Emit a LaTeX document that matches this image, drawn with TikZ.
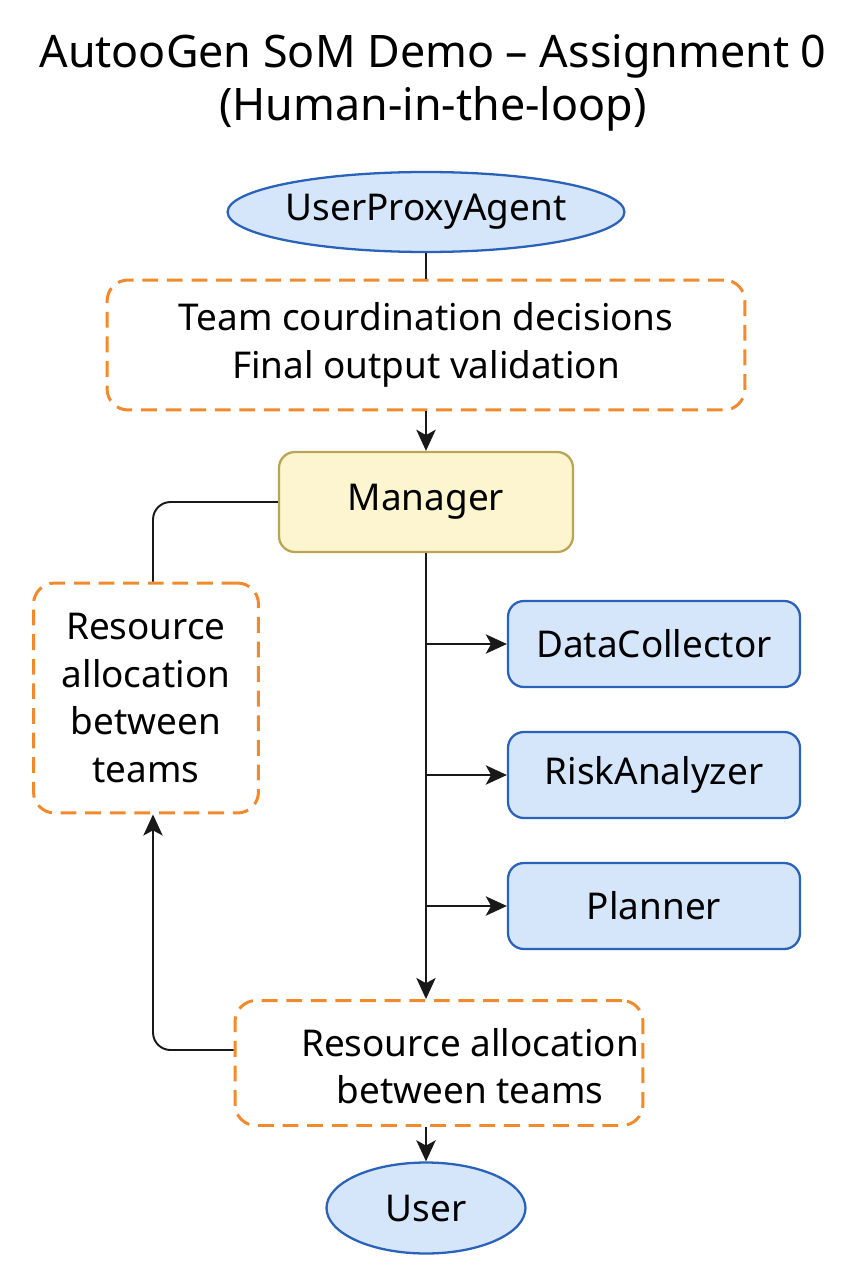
\documentclass[tikz,border=0pt]{standalone}
\usepackage{fontspec}
\setmainfont{Noto Sans}
\usetikzlibrary{shapes.geometric, arrows.meta, positioning}
\definecolor{agentblue}{RGB}{213, 230, 251}
\definecolor{edgeblue}{RGB}{43, 98, 185}
\definecolor{mgryellow}{RGB}{253, 245, 208}
\definecolor{mgredge}{RGB}{185, 165, 82}
\definecolor{noteorange}{RGB}{240, 138, 44}

\begin{document}
\begin{tikzpicture}[x=0.02cm, y=-0.02cm,
    body/.style={font=\fontsize{21}{27}\selectfont, align=center},
    terminal/.style={ellipse, draw=edgeblue, fill=agentblue, line width=1.3pt, inner sep=0pt, body},
    agent/.style={draw=edgeblue, fill=agentblue, line width=1.3pt, rounded corners=9pt, minimum width=5.84cm, minimum height=1.72cm, body},
    note/.style={draw=noteorange, line width=1.7pt, dash pattern=on 9pt off 5pt, rounded corners=12pt, body},
    link/.style={line width=1.1pt, black!90},
    arr/.style={link, -{Stealth[length=12pt, width=11pt, inset=3pt]}}]
  \useasboundingbox (0, 0) rectangle (853, 1280);

  % title
  \node[font=\fontsize{25.5}{30}\selectfont, align=center] (title) at (433, 83) {AutooGen SoM Demo -- Assignment 0\\(Human-in-the-loop)};

  % top of the loop
  \node[terminal, minimum width=7.84cm, minimum height=1.6cm] (upa) at (426, 212) {UserProxyAgent};
  \node[note, minimum width=12.76cm, minimum height=2.6cm] (coord) at (426, 345) {Team courdination decisions\\Final output validation};
  \node[draw=mgredge, fill=mgryellow, line width=1.3pt, rounded corners=9pt, minimum width=5.88cm, minimum height=2cm, body] (mgr) at (426, 502) {Manager};

  % worker agents
  \node[agent] (dc) at (654, 644) {DataCollector};
  \node[agent] (risk) at (654, 775) {RiskAnalyzer};
  \node[agent] (plan) at (654, 906) {Planner};

  % resource notes
  \node[note, minimum width=4.5cm, minimum height=4.6cm] (resl) at (146, 698) {Resource\\allocation\\between\\teams};
  \node[note, minimum width=8.16cm, minimum height=2.5cm] (resb) at (439, 1063) {};
  \node[body] (resbt) at (470, 1066) {Resource allocation\\between teams};

  \node[terminal, minimum width=3.98cm, minimum height=1.82cm] (user) at (426, 1208) {User};

  % connectors
  \draw[link] (upa.south) -- (coord.north);
  \draw[arr] (coord.south) -- (mgr.north);
  \draw[link, rounded corners=10pt] (mgr.west) -| ([xshift=0.14cm]resl.north);
  \draw[arr] (mgr.south) -- (mgr.south |- resb.north);
  \foreach \a in {dc, risk, plan}
    \draw[arr] (mgr.south |- \a.west) -- (\a.west);
  \draw[arr] (user.north |- resb.south) -- (user.north);
  \draw[arr, rounded corners=10pt] ([yshift=0.26cm]resb.west) -| ([xshift=0.14cm]resl.south);
\end{tikzpicture}
\end{document}
